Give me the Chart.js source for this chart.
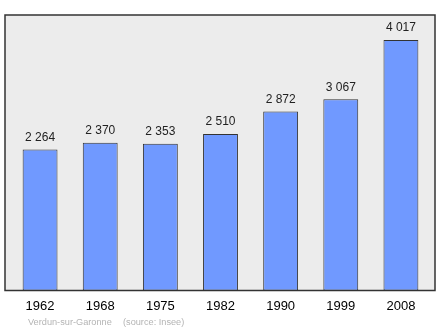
<!DOCTYPE html>
<html>
<head>
<meta charset="utf-8">
<script src="https://cdn.jsdelivr.net/npm/chart.js@4"></script>
<style>
html,body{margin:0;padding:0;background:#fff;}
#wrap{width:440px;height:329px;}
</style>
</head>
<body>
<div id="wrap"><canvas id="chart" width="440" height="329"></canvas></div>
<script>
const years = ["1962","1968","1975","1982","1990","1999","2008"];
const population = [2264,2370,2353,2510,2872,3067,4017];
const footerPlace = "Verdun-sur-Garonne";
const footerSource = "(source: Insee)";

function fmt(n){
return String(n).replace(/\B(?=(\d{3})+(?!\d))/g," ");
}

// grey panel with dark frame behind the bars
const panel = {
id:"panel",
beforeDraw(chart){
const a = chart.chartArea;
const c = chart.ctx;
c.save();
c.fillStyle = "#ececec";
c.fillRect(a.left-5,a.top,a.right-a.left+9,a.bottom-a.top);
c.strokeStyle = "#333";
c.lineWidth = 1.5;
c.strokeRect(a.left-5,a.top,a.right-a.left+9,a.bottom-a.top);
c.restore();
},
afterDraw(chart){
const c = chart.ctx;
const meta = chart.getDatasetMeta(0);
c.save();
c.fillStyle = "#222";
c.font = "12px 'Liberation Sans', Arial, sans-serif";
c.textAlign = "center";
c.textBaseline = "bottom";
meta.data.forEach((bar,i)=>{
c.fillText(fmt(population[i]),bar.x,bar.y-6);
});
c.fillStyle = "#b4b4b4";
c.font = "9.2px 'Liberation Sans', Arial, sans-serif";
c.textAlign = "left";
c.textBaseline = "middle";
c.fillText(footerPlace,28,322.5);
c.fillText(footerSource,123,322.5);
c.restore();
}
};

new Chart(document.getElementById("chart"),{
type:"bar",
data:{
labels:years,
datasets:[{
data:population,
backgroundColor:"#7099ff",
borderColor:"#333",
borderWidth:1,
borderSkipped:false,
barPercentage:0.58,
categoryPercentage:1
}]
},
options:{
responsive:false,
animation:false,
layout:{padding:{left:10,right:9,top:15,bottom:0}},
plugins:{legend:{display:false},tooltip:{enabled:false}},
scales:{
x:{
grid:{display:false,drawTicks:false},
border:{display:false},
ticks:{color:"#000",font:{size:13,family:"'Liberation Sans', Arial, sans-serif"},padding:8,maxRotation:0},
afterFit(s){ s.height = 38.5; }
},
y:{
display:false,
min:0,
max:4420
}
}
},
plugins:[panel]
});
</script>
</body>
</html>
